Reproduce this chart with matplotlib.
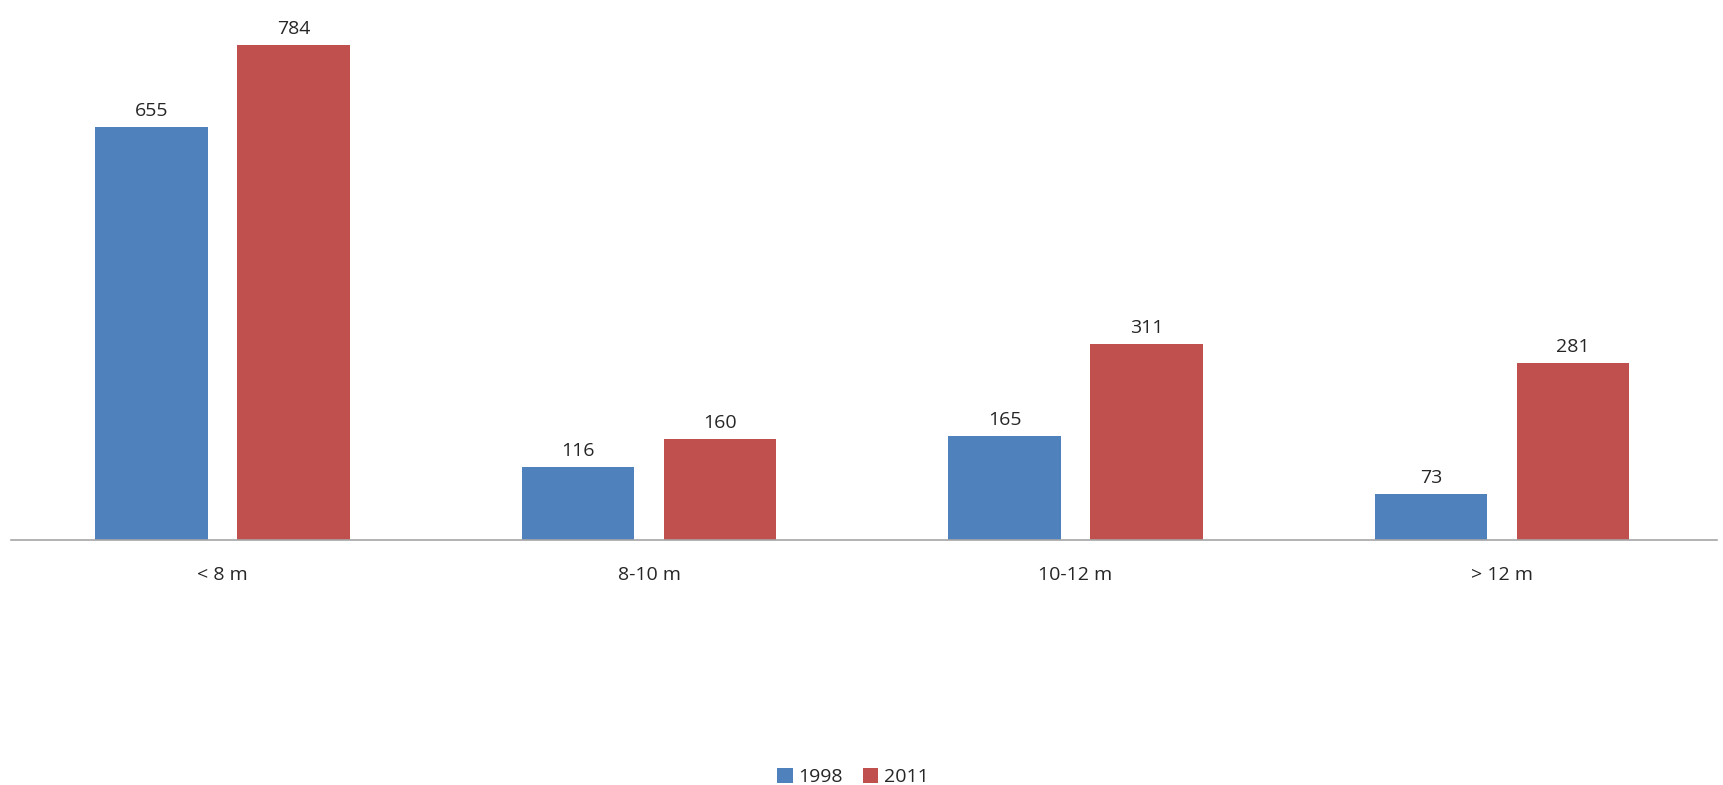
import numpy as np
import matplotlib.pyplot as plt

categories = ["< 8 m", "8-10 m", "10-12 m", "> 12 m"]
series_names = ["1998", "2011"]
values_1998 = [655, 116, 165, 73]
values_2011 = [784, 160, 311, 281]

plt.rcParams['font.family'] = ['Open Sans', 'DejaVu Sans']

fig = plt.figure(figsize=(17.23, 7.85), dpi=100)
ax = fig.add_axes([11 / 1723, 245 / 785, 1706 / 1723, 505 / 785])

x = np.arange(len(categories))
width = 0.263
gap = 0.07
off = (width + gap) / 2
shift = -0.004

b1 = ax.bar(x - off + shift, values_1998, width, color="#4F81BD", label=series_names[0])
b2 = ax.bar(x + off + shift, values_2011, width, color="#C0504D", label=series_names[1])

for bars in (b1, b2):
    ax.bar_label(bars, padding=5, fontsize=14, color="#262626")

ax.set_xlim(-0.5, len(categories) - 0.5)
ax.set_ylim(0, 800)
ax.set_xticks(x + shift)
ax.set_xticklabels(categories, fontsize=14, color="#262626")
ax.tick_params(axis="x", length=0, pad=19)
ax.set_yticks([])
for s in ("top", "right", "left"):
    ax.spines[s].set_visible(False)
ax.spines["bottom"].set_color("#A6A6A6")
ax.spines["bottom"].set_linewidth(1.2)

fig.legend(loc="center", bbox_to_anchor=(853 / 1723, 8 / 785), ncol=2,
           frameon=False, fontsize=14, handlelength=0.8, handleheight=0.8,
           handletextpad=0.3, columnspacing=1.0, labelcolor="#262626")

fig.savefig("out.png", dpi=100)
